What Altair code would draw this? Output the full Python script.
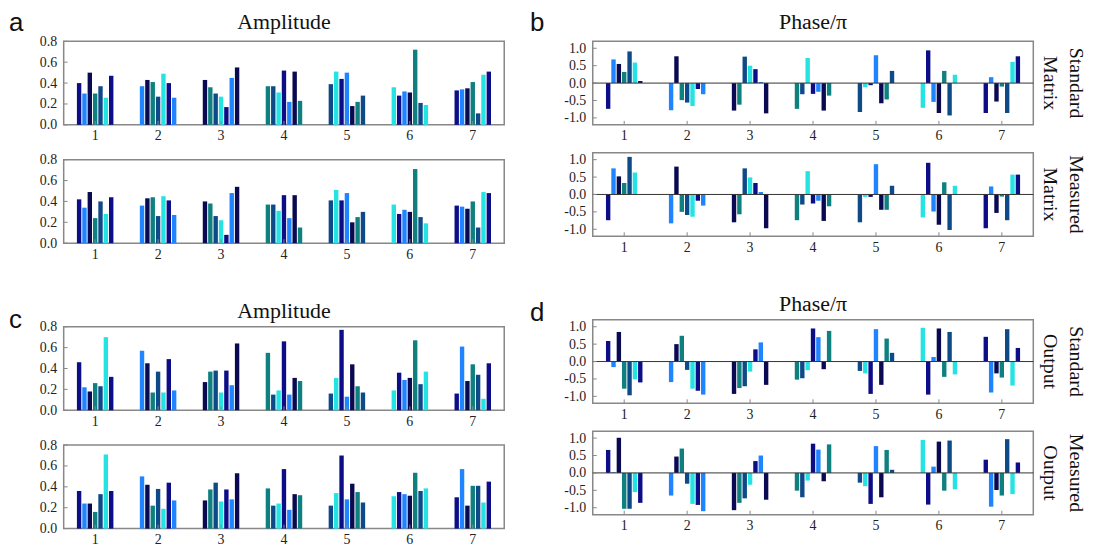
import altair as alt
import pandas as pd

groups = [1, 2, 3, 4, 5, 6, 7]
color_keys = ["N", "B", "D", "T", "S", "C"]
color_values = ["#0d0d88", "#1e84ff", "#0a0a52", "#0f8080", "#0f4a88", "#25e3e3"]

amp_std_matrix = [
    [0.40, 0.30, 0.50, 0.30, 0.37, 0.26, 0.47],
    [0.37, 0.43, 0.41, 0.27, 0.49, 0.40, 0.26],
    [0.43, 0.36, 0.30, 0.27, 0.17, 0.45, 0.55],
    [0.37, 0.37, 0.31, 0.52, 0.22, 0.51, 0.23],
    [0.39, 0.51, 0.44, 0.50, 0.18, 0.22, 0.28],
    [0.36, 0.28, 0.32, 0.31, 0.72, 0.21, 0.19],
    [0.33, 0.34, 0.35, 0.41, 0.11, 0.48, 0.51],
]
amp_meas_matrix = [
    [0.42, 0.34, 0.49, 0.24, 0.40, 0.28, 0.44],
    [0.36, 0.43, 0.44, 0.26, 0.45, 0.41, 0.27],
    [0.40, 0.38, 0.26, 0.22, 0.08, 0.48, 0.54],
    [0.37, 0.37, 0.31, 0.46, 0.24, 0.46, 0.15],
    [0.41, 0.51, 0.41, 0.48, 0.20, 0.25, 0.30],
    [0.37, 0.28, 0.32, 0.30, 0.71, 0.25, 0.19],
    [0.36, 0.35, 0.33, 0.40, 0.15, 0.49, 0.48],
]
phase_std_matrix = [
    [-0.74, 0.68, 0.55, 0.32, 0.91, 0.59, 0.06],
    [-0.78, 0.77, -0.49, -0.56, -0.66, -0.17, -0.32],
    [-0.79, -0.62, 0.76, 0.50, 0.40, 0.03, -0.87],
    [-0.74, -0.32, 0.72, -0.31, -0.25, -0.79, -0.36],
    [-0.83, -0.12, -0.06, 0.80, -0.58, -0.47, 0.35],
    [-0.71, 0.94, -0.54, -0.86, 0.35, -0.93, 0.24],
    [-0.86, 0.17, -0.53, -0.10, -0.86, 0.61, 0.77],
]
phase_meas_matrix = [
    [-0.74, 0.75, 0.52, 0.33, 1.08, 0.63, 0.00],
    [-0.83, 0.80, -0.50, -0.59, -0.64, -0.18, -0.32],
    [-0.80, -0.57, 0.75, 0.49, 0.33, 0.07, -0.97],
    [-0.74, -0.29, 0.67, -0.26, -0.18, -0.76, -0.34],
    [-0.80, -0.07, -0.07, 0.87, -0.44, -0.44, 0.25],
    [-0.66, 0.91, -0.49, -0.87, 0.35, -1.02, 0.25],
    [-0.97, 0.23, -0.53, -0.06, -0.74, 0.57, 0.57],
]
amp_std_output = [
    [0.46, 0.22, 0.18, 0.26, 0.23, 0.70, 0.32],
    [0.57, 0.45, 0.17, 0.37, 0.17, 0.49, 0.19],
    [0.27, 0.37, 0.38, 0.17, 0.38, 0.24, 0.64],
    [0.55, 0.15, 0.19, 0.66, 0.15, 0.31, 0.28],
    [0.16, 0.31, 0.77, 0.13, 0.44, 0.23, 0.17],
    [0.19, 0.36, 0.29, 0.31, 0.67, 0.25, 0.37],
    [0.16, 0.61, 0.28, 0.44, 0.34, 0.11, 0.45],
]
amp_meas_output = [
    [0.36, 0.24, 0.24, 0.16, 0.33, 0.71, 0.36],
    [0.50, 0.42, 0.22, 0.38, 0.19, 0.44, 0.27],
    [0.27, 0.375, 0.44, 0.26, 0.375, 0.28, 0.53],
    [0.385, 0.22, 0.24, 0.57, 0.18, 0.33, 0.32],
    [0.22, 0.34, 0.70, 0.28, 0.43, 0.35, 0.25],
    [0.31, 0.35, 0.33, 0.315, 0.535, 0.36, 0.385],
    [0.30, 0.57, 0.22, 0.41, 0.41, 0.25, 0.45],
]
phase_std_output = [
    [0.59, -0.16, 0.85, -0.78, -0.97, -0.51, -0.60],
    [-0.59, 0.50, 0.74, -0.24, -0.78, -0.84, -0.95],
    [-0.93, -0.76, -0.71, -0.29, 0.35, 0.55, -0.67],
    [-0.52, -0.48, -0.25, 0.95, 0.70, -0.22, 0.88],
    [-0.27, -0.34, -0.93, 0.93, -0.67, 0.66, 0.25],
    [0.97, -0.95, 0.13, 0.95, -0.44, 0.85, -0.37],
    [0.71, -0.89, -0.34, -0.46, 0.93, -0.69, 0.39],
]
phase_meas_output = [
    [0.66, 0.02, 1.01, -1.03, -1.03, -0.55, -0.86],
    [-0.65, 0.47, 0.70, -0.31, -0.89, -0.92, -1.10],
    [-1.07, -0.86, -0.73, -0.34, 0.34, 0.50, -0.77],
    [-0.51, -0.70, -0.22, 0.84, 0.67, -0.24, 0.82],
    [-0.28, -0.38, -0.89, 0.77, -0.70, 0.66, 0.09],
    [0.95, -0.91, 0.18, 0.90, -0.51, 0.93, -0.47],
    [0.38, -0.97, -0.49, -0.65, 0.97, -0.61, 0.30],
]

amp_ticks = [0.0, 0.2, 0.4, 0.6, 0.8]
phase_ticks = [-1.0, -0.5, 0.0, 0.5, 1.0]

W, H = 443, 84
SERIF = "Liberation Serif"
SANS = "Liberation Sans"
LABEL_EXPR = "(datum.value < 0 ? '-' : '') + format(abs(datum.value), '.1f')"


def to_frame(values):
    rows = []
    for gi, grp in enumerate(values):
        for s, v in enumerate(grp):
            rows.append({"group": groups[gi], "slot": s, "value": v,
                         "ckey": color_keys[(gi + s) % 6]})
    return pd.DataFrame(rows)


def text_layer(txt, x, y, font, size, align="left", angle=0):
    kw = dict(font=font, fontSize=size, align=align, baseline="alphabetic", color="#111")
    if angle:
        kw.update(angle=angle, baseline="middle")
    return alt.Chart(pd.DataFrame({"t": [txt]})).mark_text(**kw).encode(
        text="t:N", x=alt.value(x), y=alt.value(y))


def panel(values, kind, letter=None, letter_pos=(-55, -12), title=None, title_y=-12,
          rowlab=None):
    df = to_frame(values)
    if kind == "amp":
        dom, ticks = [0, 0.8], amp_ticks
    else:
        dom, ticks = [-1.2, 1.2], phase_ticks
    yscale = alt.Scale(domain=dom, nice=False)
    xscale = alt.Scale(paddingInner=0.42, paddingOuter=0.21)
    common = dict(title=None, ticks=False, domain=False, labelFont=SERIF, labelFontSize=14,
                  labelColor="#222", grid=False)
    xaxis = alt.Axis(labelAngle=0, labelPadding=4, **common)
    yaxis = alt.Axis(values=ticks, labelExpr=LABEL_EXPR, labelPadding=7, **common)
    bars = alt.Chart(df).mark_bar().encode(
        x=alt.X("group:O", scale=xscale, axis=xaxis),
        xOffset=alt.XOffset("slot:O", scale=alt.Scale(paddingInner=0.18, paddingOuter=0)),
        y=alt.Y("value:Q", scale=yscale, axis=yaxis),
        color=alt.Color("ckey:N", scale=alt.Scale(domain=color_keys, range=color_values),
                        legend=None),
    )
    layers = [bars]
    if kind == "phase":
        layers.append(alt.Chart(pd.DataFrame({"value": [0.0]})).mark_rule(
            color="#333", strokeWidth=1).encode(y=alt.Y("value:Q", scale=yscale, axis=yaxis)))
    layers.append(alt.Chart(pd.DataFrame({"value": ticks})).mark_rule(
        color="#888", strokeWidth=1).encode(
        y=alt.Y("value:Q", scale=yscale, axis=yaxis), x=alt.value(0), x2=alt.value(4)))
    layers.append(alt.Chart(pd.DataFrame({"group": groups})).mark_rule(
        color="#888", strokeWidth=1).encode(
        x=alt.X("group:O", scale=xscale, axis=xaxis), y=alt.value(H), y2=alt.value(H - 4)))
    if letter:
        layers.append(text_layer(letter, letter_pos[0], letter_pos[1], SANS, 26))
    if title:
        layers.append(text_layer(title, W / 2, title_y, SERIF, 22, align="center"))
    if rowlab:
        layers.append(text_layer(rowlab[0], W + 43, H / 2, SERIF, 20, align="center", angle=90))
        layers.append(text_layer(rowlab[1], W + 17, H / 2, SERIF, 20, align="center", angle=90))
    return alt.layer(*layers).properties(width=W, height=H)


a1 = panel(amp_std_matrix, "amp", letter="a", letter_pos=(-55, -10), title="Amplitude", title_y=-12)
a2 = panel(amp_meas_matrix, "amp")
c1 = panel(amp_std_output, "amp", letter="c", letter_pos=(-55, 1), title="Amplitude", title_y=-9)
c2 = panel(amp_meas_output, "amp")

b1 = panel(phase_std_matrix, "phase", letter="b", letter_pos=(-63, -10), title="Phase/π",
           title_y=-12, rowlab=("Standard", "Matrix"))
b2 = panel(phase_meas_matrix, "phase", rowlab=("Measured", "Matrix"))
d1 = panel(phase_std_output, "phase", letter="d", letter_pos=(-63, 1), title="Phase/π",
           title_y=-9, rowlab=("Standard", "Output"))
d2 = panel(phase_meas_output, "phase", rowlab=("Measured", "Output"))

S1, S2, HS = 8, 37, 24
left = alt.vconcat(alt.vconcat(a1, a2, spacing=S1), alt.vconcat(c1, c2, spacing=S1), spacing=S2)
right = alt.vconcat(alt.vconcat(b1, b2, spacing=S1), alt.vconcat(d1, d2, spacing=S1), spacing=S2)

chart = alt.hconcat(left, right, spacing=HS).properties(padding=0).configure_view(
    stroke="#888", strokeWidth=1.5
)

chart.save("out.html", embed_options={"renderer": "svg", "actions": False})
